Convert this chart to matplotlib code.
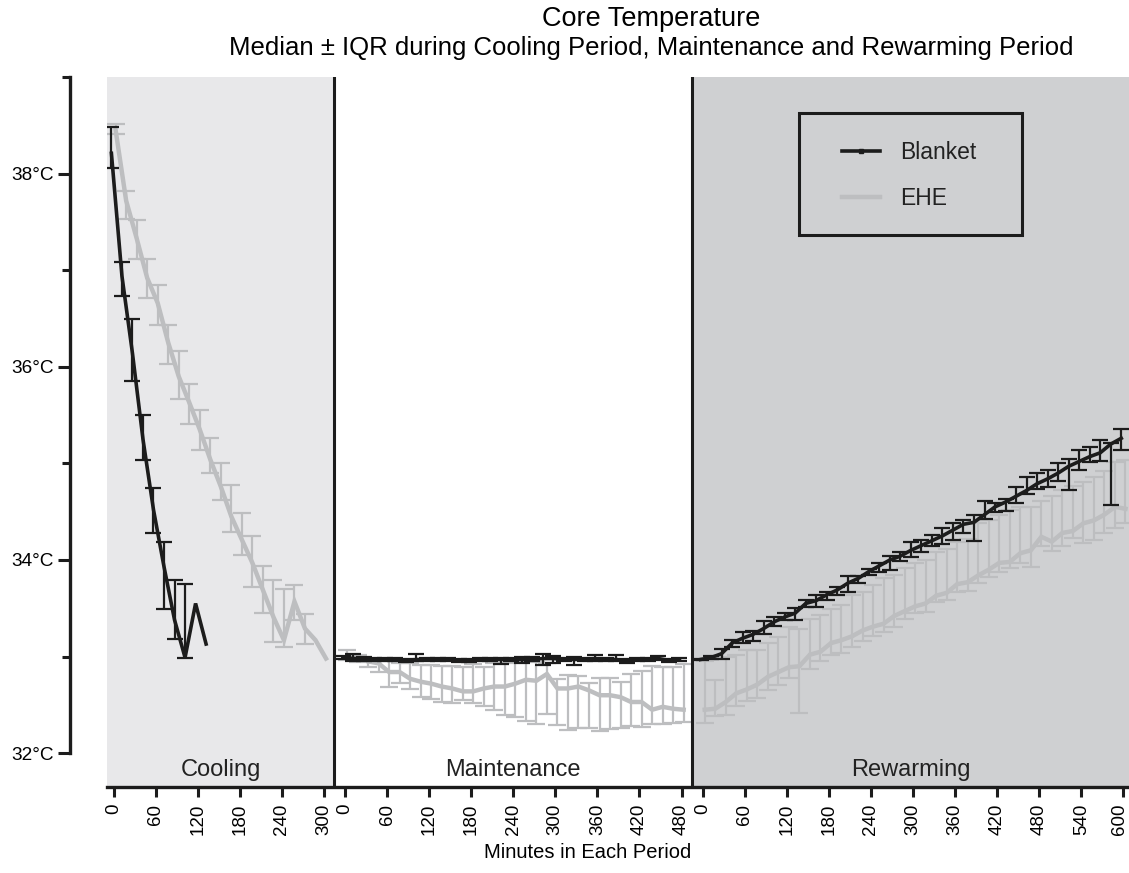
import matplotlib
matplotlib.use('Agg')
import matplotlib.pyplot as plt
from matplotlib.patches import Rectangle
from matplotlib.lines import Line2D
import matplotlib.transforms as mtransforms
import numpy as np

plt.rcParams['font.family'] = ['Liberation Sans', 'DejaVu Sans']

# ---------------- data ----------------
periods = ['Cooling', 'Maintenance', 'Rewarming']
period_offset = [0, 330, 840]          # position of each period's 0 on the shared axis
period_span = [(-9.3, 315), (315, 825), (825, 1448)]
period_color = ['#e8e8ea', '#ffffff', '#cfd0d2']
period_ticks = [[0, 60, 120, 180, 240, 300],
                [0, 60, 120, 180, 240, 300, 360, 420, 480],
                [0, 60, 120, 180, 240, 300, 360, 420, 480, 540, 600]]

# Cooling (minutes)
cool_t_blanket = [0, 15, 30, 45, 60, 75, 90, 105, 120, 135]
cool_blanket_med = [38.21, 36.94, 36.14, 35.25, 34.52, 33.93, 33.38, 32.99, 33.55, 33.13]
cool_blanket_lo = [38.06, 36.73, 35.85, 35.04, 34.28, 33.49, 33.18, 32.99, 33.55, 33.13]
cool_blanket_hi = [38.48, 37.09, 36.49, 35.50, 34.75, 34.19, 33.79, 33.75, 33.55, 33.13]

cool_t_ehe = [0, 15, 30, 45, 60, 75, 90, 105, 120, 135, 150, 165, 180, 195, 210,
              225, 240, 255, 270, 285, 300]
cool_ehe_med = [38.45, 37.72, 37.33, 36.92, 36.66, 36.25, 35.90, 35.63, 35.35, 35.04, 34.76,
                34.45, 34.21, 33.97, 33.69, 33.41, 33.17, 33.57, 33.29, 33.17, 32.98]
cool_ehe_lo = [38.41, 37.53, 37.12, 36.71, 36.43, 36.03, 35.67, 35.41, 35.14, 34.90, 34.62,
               34.29, 34.05, 33.72, 33.45, 33.15, 33.10, 33.38, 33.13, 33.17, 32.98]
cool_ehe_hi = [38.51, 37.82, 37.52, 37.12, 36.85, 36.43, 36.16, 35.82, 35.55, 35.26, 35.00,
               34.78, 34.49, 34.25, 33.94, 33.79, 33.70, 33.74, 33.44, 33.17, 32.98]

# Maintenance (minutes)
maint_t = [0, 15, 30, 45, 60, 75, 90, 105, 120, 135, 150, 165, 180, 195, 210, 225, 240,
           255, 270, 285, 300, 315, 330, 345, 360, 375, 390, 405, 420, 435, 450, 465, 480]
maint_blanket_med = [32.99, 32.98, 32.98, 32.97, 32.97, 32.97, 32.96, 32.97, 32.97, 32.97, 32.97,
                     32.96, 32.96, 32.97, 32.97, 32.97, 32.97, 32.97, 32.97, 32.98, 32.98, 32.97,
                     32.97, 32.97, 32.98, 32.97, 32.97, 32.96, 32.97, 32.97, 32.98, 32.96, 32.97]
maint_blanket_lo = [32.97, 32.95, 32.95, 32.95, 32.95, 32.95, 32.94, 32.95, 32.95, 32.95, 32.95,
                    32.94, 32.94, 32.95, 32.95, 32.92, 32.95, 32.93, 32.95, 32.91, 32.93, 32.95,
                    32.91, 32.95, 32.95, 32.95, 32.95, 32.93, 32.95, 32.95, 32.96, 32.94, 32.95]
maint_blanket_hi = [33.01, 33.03, 33.00, 32.99, 32.99, 32.99, 32.98, 33.03, 32.99, 32.99, 32.99,
                    32.98, 32.98, 32.99, 32.99, 32.99, 32.99, 33.00, 33.00, 33.03, 33.01, 32.99,
                    33.00, 32.99, 33.02, 32.99, 33.02, 32.98, 32.99, 32.99, 33.01, 32.98, 32.99]
maint_ehe_med = [32.99, 32.98, 32.95, 32.93, 32.84, 32.84, 32.77, 32.74, 32.72, 32.69, 32.67,
                 32.64, 32.64, 32.67, 32.69, 32.69, 32.72, 32.76, 32.75, 32.82, 32.67, 32.67,
                 32.69, 32.65, 32.60, 32.60, 32.58, 32.53, 32.53, 32.45, 32.48, 32.46, 32.45]
maint_ehe_lo = [32.96, 32.94, 32.89, 32.84, 32.69, 32.73, 32.66, 32.58, 32.56, 32.53, 32.52,
                32.55, 32.52, 32.49, 32.45, 32.40, 32.37, 32.33, 32.30, 32.41, 32.29, 32.24,
                32.26, 32.26, 32.23, 32.25, 32.26, 32.28, 32.27, 32.30, 32.30, 32.31, 32.32]
maint_ehe_hi = [33.07, 33.02, 32.98, 32.96, 32.95, 32.93, 32.93, 32.91, 32.91, 32.90, 32.90,
                32.89, 32.92, 32.89, 32.93, 32.93, 32.95, 32.95, 32.94, 32.93, 32.77, 32.81,
                32.80, 32.73, 32.78, 32.78, 32.74, 32.82, 32.85, 32.90, 32.89, 32.89, 32.92]

# Rewarming (minutes)
rew_t = [0, 15, 30, 45, 60, 75, 90, 105, 120, 135, 150, 165, 180, 195, 210, 225, 240, 255,
         270, 285, 300, 315, 330, 345, 360, 375, 390, 405, 420, 435, 450, 465, 480, 495,
         510, 525, 540, 555, 570, 585, 600]
rew_blanket_med = [32.97, 32.99, 33.03, 33.14, 33.19, 33.23, 33.29, 33.36, 33.41, 33.45, 33.55,
                   33.58, 33.64, 33.69, 33.76, 33.81, 33.88, 33.94, 34.00, 34.04, 34.10, 34.15,
                   34.20, 34.25, 34.31, 34.37, 34.39, 34.47, 34.55, 34.60, 34.66, 34.72, 34.79,
                   34.84, 34.90, 34.97, 35.02, 35.07, 35.11, 35.20, 35.26]
rew_blanket_lo = [32.96, 32.97, 32.97, 33.10, 33.14, 33.16, 33.23, 33.32, 33.38, 33.38, 33.51,
                  33.51, 33.59, 33.64, 33.67, 33.76, 33.84, 33.88, 33.90, 33.99, 34.03, 34.08,
                  34.14, 34.17, 34.21, 34.28, 34.20, 34.42, 34.50, 34.51, 34.59, 34.68, 34.73,
                  34.76, 34.82, 34.72, 34.93, 35.01, 35.02, 34.57, 35.14]
rew_blanket_hi = [32.98, 33.01, 33.08, 33.17, 33.25, 33.27, 33.37, 33.41, 33.45, 33.50, 33.59,
                  33.64, 33.67, 33.72, 33.83, 33.83, 33.91, 33.97, 34.04, 34.08, 34.19, 34.21,
                  34.26, 34.33, 34.38, 34.41, 34.47, 34.61, 34.59, 34.63, 34.76, 34.86, 34.90,
                  34.93, 35.00, 35.05, 35.14, 35.17, 35.24, 35.21, 35.36]
rew_ehe_med = [32.45, 32.46, 32.53, 32.62, 32.66, 32.71, 32.79, 32.84, 32.89, 32.90, 33.02,
               33.05, 33.14, 33.17, 33.21, 33.27, 33.31, 33.34, 33.42, 33.47, 33.52, 33.55,
               33.63, 33.66, 33.75, 33.77, 33.84, 33.90, 33.97, 33.98, 34.07, 34.10, 34.24,
               34.19, 34.28, 34.30, 34.38, 34.41, 34.47, 34.55, 34.53]
rew_ehe_lo = [32.31, 32.38, 32.40, 32.49, 32.54, 32.57, 32.65, 32.71, 32.78, 32.42, 32.87,
              32.95, 33.02, 33.04, 33.10, 33.16, 33.21, 33.25, 33.31, 33.39, 33.45, 33.46,
              33.57, 33.59, 33.67, 33.68, 33.76, 33.82, 33.88, 33.92, 33.97, 33.93, 34.14,
              34.09, 34.14, 34.23, 34.18, 34.21, 34.28, 34.33, 34.38]
rew_ehe_hi = [32.95, 32.76, 33.00, 33.02, 33.07, 33.07, 33.14, 33.20, 33.31, 33.29, 33.39,
              33.43, 33.49, 33.53, 33.64, 33.67, 33.74, 33.81, 33.84, 33.92, 33.97, 34.00,
              34.08, 34.11, 34.19, 34.22, 34.38, 34.41, 34.47, 34.52, 34.55, 34.55, 34.61,
              34.66, 34.72, 34.77, 34.81, 34.86, 34.92, 35.01, 35.04]

y_major = [32, 34, 36, 38]
y_minor = [33, 35, 37, 39]

blanket_series = [(cool_t_blanket, cool_blanket_med, cool_blanket_lo, cool_blanket_hi),
                  (maint_t, maint_blanket_med, maint_blanket_lo, maint_blanket_hi),
                  (rew_t, rew_blanket_med, rew_blanket_lo, rew_blanket_hi)]
ehe_series = [(cool_t_ehe, cool_ehe_med, cool_ehe_lo, cool_ehe_hi),
              (maint_t, maint_ehe_med, maint_ehe_lo, maint_ehe_hi),
              (rew_t, rew_ehe_med, rew_ehe_lo, rew_ehe_hi)]

# ---------------- styling ----------------
BLACK = '#1c1c1c'
GREY = '#bdbec0'
W, H = 1129, 873

fig = plt.figure(figsize=(W / 100, H / 100), dpi=100)
ax = fig.add_axes([107 / W, 86 / H, 1022 / W, 710 / H])
ax.set_xlim(-9.3, 1448)
ax.set_ylim(31.65, 39)

for (x0, x1), c in zip(period_span, period_color):
    ax.axvspan(x0, x1, color=c, lw=0, zorder=0)
for x in [period_span[0][1], period_span[1][1]]:
    ax.axvline(x, color=BLACK, lw=2.2, zorder=5)


def draw(series, color, lw, elw, cap, dodge, z):
    for off, (t, med, lo, hi) in zip(period_offset, series):
        t = np.asarray(t, float)
        med = np.asarray(med); lo = np.asarray(lo); hi = np.asarray(hi)
        u = t + off + dodge
        ax.plot(u, med, color=color, lw=lw, zorder=z, solid_joinstyle='miter')
        m = (hi - lo) > 0.001
        ax.errorbar(u[m], med[m], yerr=[med[m] - lo[m], hi[m] - med[m]], fmt='none',
                    ecolor=color, elinewidth=elw, capsize=cap, capthick=elw, zorder=z)


draw(ehe_series, GREY, 3.2, 1.6, 6.5, 3, 3)
draw(blanket_series, BLACK, 2.6, 1.6, 5.5, -3, 4)

# x ticks
xt, xl = [], []
for off, ticks in zip(period_offset, period_ticks):
    for v in ticks:
        xt.append(v + off)
        xl.append(str(v))
ax.set_xticks(xt)
ax.set_xticklabels(xl, rotation=90)
ax.tick_params(axis='x', length=7, width=2.2, labelsize=13.5, pad=5, color=BLACK)
# last label sits at the figure edge: nudge it a few pixels inward
last = ax.get_xticklabels()[-1]
last.set_transform(last.get_transform() +
                   mtransforms.ScaledTranslation(-4 / 100, 0, fig.dpi_scale_trans))

ax.set_yticks(y_major)
ax.set_yticklabels([f'{v}°C' for v in y_major])
ax.set_yticks(y_minor, minor=True)
ax.tick_params(axis='y', which='major', length=8.5, width=2.2, labelsize=13.7, pad=3, color=BLACK)
ax.tick_params(axis='y', which='minor', length=5.5, width=2.2, color=BLACK)

for s in ['top', 'right']:
    ax.spines[s].set_visible(False)
ax.spines['bottom'].set_linewidth(2.4)
ax.spines['bottom'].set_color(BLACK)
ax.spines['left'].set_linewidth(2.4)
ax.spines['left'].set_color(BLACK)
ax.spines['left'].set_position(('outward', 26.6))
ax.spines['left'].set_bounds(32, 39)

# period labels
for (x0, x1), name in zip(period_span, periods):
    ax.text((x0 + x1) / 2, 31.83, name, ha='center', va='center', fontsize=17,
            color='#222222', zorder=6)

# titles
fig.text(651 / W, 1 - 19 / H, 'Core Temperature', ha='center', va='center', fontsize=19.5)
fig.text(651 / W, 1 - 48 / H,
         'Median ± IQR during Cooling Period, Maintenance and Rewarming Period',
         ha='center', va='center', fontsize=18.5)
fig.text(588 / W, 1 - 852 / H, 'Minutes in Each Period', ha='center', va='center',
         fontsize=14.5)

# legend
handles = [Line2D([], [], color=BLACK, lw=2.6, marker='s', markersize=3),
           Line2D([], [], color=GREY, lw=3.2)]
leg = ax.legend(handles, ['Blanket', 'EHE'], loc='upper left',
                bbox_to_anchor=(842 / W, 1 - 141 / H), bbox_transform=fig.transFigure,
                frameon=False, fontsize=16.5, borderpad=0, borderaxespad=0,
                handlelength=1.66, handletextpad=0.87, labelspacing=0.99)
for t in leg.get_texts():
    t.set_color('#222222')
fig.add_artist(Rectangle((799 / W, 1 - 235 / H), 223 / W, 122 / H, fill=False,
                         lw=2.2, edgecolor=BLACK, transform=fig.transFigure, zorder=10))

fig.savefig('out.png', dpi=100)
